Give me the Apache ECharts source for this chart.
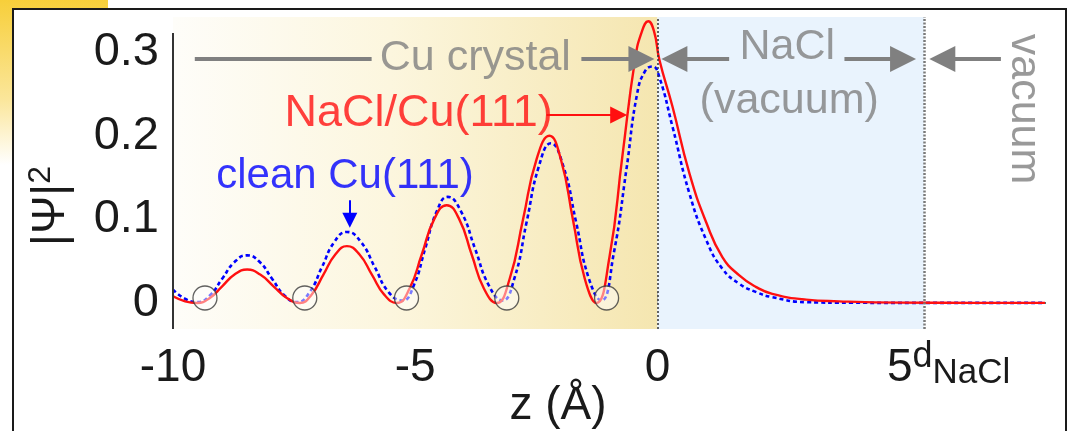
<!DOCTYPE html>
<html>
<head>
<meta charset="utf-8">
<script src="https://cdn.jsdelivr.net/npm/echarts@6/dist/echarts.min.js"></script>
<style>
  html, body { margin: 0; padding: 0; background: #fff; }
  #chart { width: 1072px; height: 431px; }
</style>
</head>
<body>
<div id="chart"></div>
<script>
// |Psi|^2 of the surface state, NaCl/Cu(111) (red, solid)
const zRed = [-10, -9.75, -9.50, -9.24, -8.985, -8.73, -8.47, -8.20, -7.925, -7.65, -7.38,
  -7.14, -6.895, -6.65, -6.41, -6.15, -5.895, -5.64, -5.38, -5.12, -4.865, -4.61, -4.35,
  -4.09, -3.835, -3.58, -3.32, -3.05, -2.775, -2.50, -2.23, -1.99, -1.745, -1.50, -1.26,
  -0.99, -0.725, -0.46, -0.32, -0.19, -0.07, 0.04, 0.31, 0.66, 1.01, 1.34, 1.69, 2.04,
  2.37, 3.07, 3.75, 5.0, 6.5, 8.0];
const psiRed = [0.008, 0.002, 0.000, 0.006, 0.020, 0.034, 0.040, 0.034, 0.020, 0.006, 0.000,
  0.010, 0.034, 0.058, 0.068, 0.058, 0.034, 0.010, 0.000, 0.017, 0.058, 0.100, 0.117,
  0.100, 0.058, 0.017, 0.000, 0.029, 0.100, 0.171, 0.200, 0.171, 0.100, 0.029, 0.000,
  0.055, 0.175, 0.292, 0.325, 0.337, 0.325, 0.291, 0.235, 0.155, 0.096, 0.055, 0.033, 0.019,
  0.011, 0.004, 0.002, 0.0005, 0.0002, 0.0001];

// clean Cu(111) (blue, dashed)
const zClean = [-10, -9.75, -9.50, -9.24, -8.985, -8.73, -8.47, -8.21, -7.955, -7.70, -7.44,
  -7.18, -6.925, -6.67, -6.41, -6.12, -5.835, -5.55, -5.26, -5.03, -4.795, -4.56, -4.33,
  -4.05, -3.765, -3.48, -3.20, -2.95, -2.70, -2.45, -2.20, -1.94, -1.68, -1.42, -1.16,
  -0.90, -0.64, -0.42, -0.25, -0.10, 0.04, 0.31, 0.66, 1.01, 1.34, 1.69, 2.04, 2.37, 3.07,
  4.0, 5.5, 8.0];
const psiClean = [0.016, 0.005, 0.001, 0.009, 0.029, 0.049, 0.057, 0.049, 0.029, 0.009, 0.001,
  0.013, 0.043, 0.073, 0.085, 0.073, 0.043, 0.013, 0.003, 0.021, 0.065, 0.109, 0.127,
  0.109, 0.065, 0.021, 0.003, 0.030, 0.097, 0.163, 0.191, 0.163, 0.097, 0.030, 0.003,
  0.060, 0.160, 0.250, 0.278, 0.283, 0.270, 0.211, 0.131, 0.075, 0.041, 0.023, 0.013, 0.007, 0.001,
  0.0003, 0.0001, 0.0001];

// Cu atomic planes (open circles)
const zAtoms = [-9.34, -7.28, -5.18, -3.11, -1.05];
const atomPsi = 0.006;

const xTicks = [-10, -5, 0, 5];
const yTicks = [0, 0.1, 0.2, 0.3];
const dNaCl = 5.5;

const txtCu = 'Cu crystal';
const txtNaCl = 'NaCl';
const txtNaClVac = '(vacuum)';
const txtVac = 'vacuum';
const txtRed = 'NaCl/Cu(111)';
const txtBlue = 'clean Cu(111)';

const FONT = '"Liberation Sans", Arial, sans-serif';
const GRAY = '#808080';
const Y_MIN = -0.0311, Y_MAX = 0.3421;

const chart = echarts.init(document.getElementById('chart'));
const pairs = (xs, ys) => xs.map((x, i) => [x, ys[i]]);

function arrow(from, to, color, width, head) {
  return [
    { coord: from, symbol: 'none', lineStyle: { color: color, width: width, type: 'solid' } },
    { coord: to, symbol: head ? 'triangle' : 'none', symbolSize: head || 0,
      itemStyle: { color: color } }
  ];
}

function note(text, x, y, color, size, rotate) {
  return {
    value: [x, y],
    label: { show: true, formatter: text, color: color, fontSize: size, rotate: rotate || 0 }
  };
}

const option = {
  animation: false,
  graphic: [
    {
      type: 'rect', silent: true, z: -10,
      shape: { x: 0, y: 0, width: 108, height: 165 },
      style: {
        fill: new echarts.graphic.LinearGradient(0, 0, 0, 1, [
          { offset: 0, color: '#f7cf3a' },
          { offset: 0.6, color: '#fbe69a' },
          { offset: 1, color: '#ffffff' }
        ])
      }
    },
    {
      type: 'rect', silent: true, z: -9,
      shape: { x: 13, y: 9, width: 1053, height: 440 },
      style: { fill: '#ffffff', stroke: '#1a1a1a', lineWidth: 2 }
    }
  ],
  grid: { left: 173, right: 27, top: 17, bottom: 102, outerBoundsMode: 'none', containLabel: false },
  xAxis: {
    type: 'value',
    min: -10,
    max: 8,
    name: 'z (Å)',
    nameLocation: 'middle',
    nameGap: 54,
    nameMoveOverlap: false,
    nameTextStyle: { fontSize: 46, color: '#1a1a1a', fontFamily: FONT, padding: [0, 102, 0, 0] },
    axisLine: { show: true, lineStyle: { color: '#333', width: 2 } },
    axisTick: { show: true, inside: true, length: 11, customValues: xTicks,
      lineStyle: { color: '#333', width: 2 } },
    axisLabel: {
      customValues: xTicks,
      margin: 12,
      fontFamily: FONT,
      color: '#1a1a1a',
      formatter: function (v) {
        if (v === 5) return '{sp| }{n|5}{d|d}{s|NaCl}';
        return '{n|' + v + '}';
      },
      rich: {
        sp: { width: 98, fontSize: 10 },
        n: { fontSize: 46, lineHeight: 50, verticalAlign: 'bottom', color: '#1a1a1a', fontFamily: FONT },
        d: { fontSize: 36, lineHeight: 38, verticalAlign: 'bottom', padding: [0, 0, 16, 0], color: '#1a1a1a', fontFamily: FONT },
        s: { fontSize: 35, lineHeight: 42, verticalAlign: 'bottom', color: '#1a1a1a', fontFamily: FONT }
      }
    },
    splitLine: { show: false }
  },
  yAxis: {
    type: 'value',
    min: Y_MIN,
    max: Y_MAX,
    name: '|Ψ|{s|2}',
    nameLocation: 'middle',
    nameRotate: 90,
    nameGap: 96,
    nameTextStyle: {
      fontSize: 46, color: '#1a1a1a', fontFamily: FONT, lineHeight: 52, padding: [0, 66, 0, 0],
      rich: { s: { fontSize: 32, lineHeight: 32, verticalAlign: 'top', color: '#1a1a1a', fontFamily: FONT } }
    },
    axisLine: { show: false },
    axisTick: { show: true, inside: true, length: 12, customValues: yTicks,
      lineStyle: { color: '#333', width: 2 } },
    axisLabel: { customValues: yTicks, fontSize: 47, margin: 14, color: '#1a1a1a', fontFamily: FONT },
    splitLine: { show: false }
  },
  series: [
    {
      // background regions, region borders and y-axis line
      type: 'line',
      data: [],
      silent: true,
      z: 1,
      markArea: {
        silent: true,
        data: [
          [{
            xAxis: -10,
            itemStyle: {
              color: new echarts.graphic.LinearGradient(0, 0, 1, 0, [
                { offset: 0, color: '#fefdf9' },
                { offset: 0.45, color: '#fcf6de' },
                { offset: 1, color: '#f5e6b0' }
              ])
            }
          }, { xAxis: 0 }],
          [{ xAxis: 0, itemStyle: { color: '#e9f3fd' } }, { xAxis: dNaCl }]
        ]
      },
      markLine: {
        silent: true,
        symbol: 'none',
        label: { show: false },
        data: [
          { xAxis: 0, lineStyle: { color: '#333', width: 1.5, type: [2, 2] } },
          { xAxis: dNaCl, lineStyle: { color: '#7a7a7a', width: 2.5, type: [2, 1.5] } },
          [{ coord: [-10, Y_MIN], lineStyle: { color: '#333', width: 2, type: 'solid' } },
           { coord: [-10, 0.323] }]
        ]
      }
    },
    {
      name: 'clean Cu(111)',
      type: 'line',
      data: pairs(zClean, psiClean),
      smooth: 0.5,
      showSymbol: false,
      z: 3,
      lineStyle: { color: '#0000ff', width: 2.6, type: [4, 3] }
    },
    {
      name: 'NaCl/Cu(111)',
      type: 'line',
      data: pairs(zRed, psiRed),
      smooth: 0.5,
      showSymbol: false,
      z: 4,
      lineStyle: { color: '#ff1010', width: 2.4 }
    },
    {
      type: 'scatter',
      data: zAtoms.map(z => [z, atomPsi]),
      symbol: 'circle',
      symbolSize: 24,
      silent: true,
      z: 5,
      itemStyle: { color: 'rgba(255,255,255,0.6)', borderColor: '#3a3a3a', borderWidth: 1.3 }
    },
    {
      // annotations: texts and arrows
      type: 'scatter',
      symbolSize: 0,
      silent: true,
      z: 6,
      label: { show: true, position: 'inside', fontFamily: FONT },
      data: [
        note(txtCu, -3.76, 0.293, GRAY, 43),
        note(txtNaCl, 2.68, 0.306, GRAY, 43),
        note(txtNaClVac, 2.72, 0.242, GRAY, 43),
        note(txtVac, 7.57, 0.232, GRAY, 43, -90),
        note(txtRed, -4.93, 0.227, '#ff1010', 45),
        note(txtBlue, -6.45, 0.152, '#0000ff', 42)
      ],
      markLine: {
        silent: true,
        label: { show: false },
        data: [
          arrow([-9.55, 0.292], [-5.90, 0.292], GRAY, 4, 0),
          arrow([-1.57, 0.292], [-0.33, 0.292], GRAY, 4, 26),
          arrow([1.48, 0.292], [0.35, 0.292], GRAY, 4, 26),
          arrow([3.86, 0.292], [5.07, 0.292], GRAY, 4, 26),
          arrow([7.09, 0.292], [5.88, 0.292], GRAY, 4, 26),
          arrow([-2.29, 0.225], [-0.80, 0.225], '#ff1010', 2, 17),
          arrow([-6.35, 0.123], [-6.35, 0.099], '#0000ff', 2, 15)
        ]
      }
    }
  ]
};

chart.setOption(option);
</script>
</body>
</html>
